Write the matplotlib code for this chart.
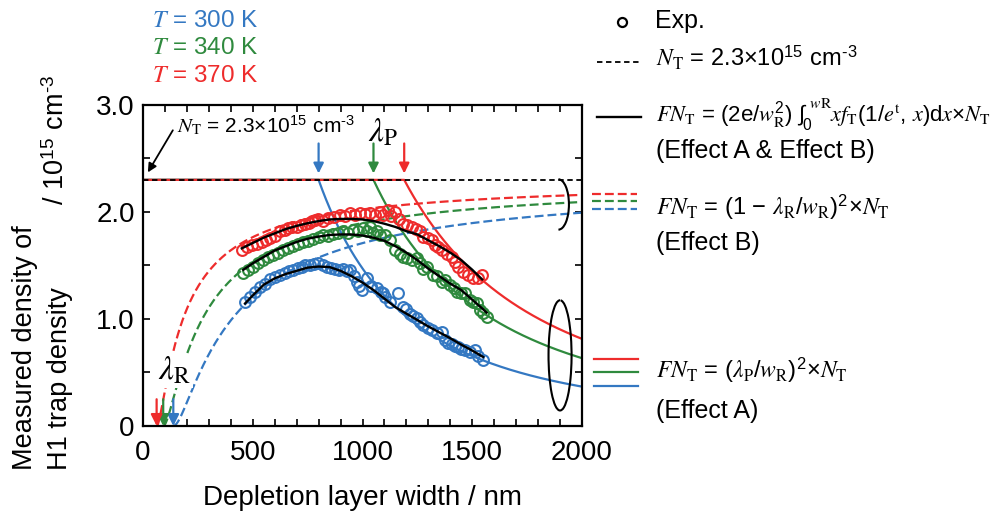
import numpy as np
import matplotlib
matplotlib.use('Agg')
import matplotlib.pyplot as plt
from matplotlib.ticker import MultipleLocator, FixedFormatter, FixedLocator
from matplotlib.patches import Arc

plt.rcParams['font.family'] = ['Liberation Sans', 'DejaVu Sans']
# italic variables in a Times-like face; \mathsf is used for the upright serif subscripts
plt.rcParams['mathtext.fontset'] = 'custom'
plt.rcParams['mathtext.rm'] = 'Liberation Sans'
plt.rcParams['mathtext.it'] = 'STIXGeneral:italic'
plt.rcParams['mathtext.sf'] = 'STIXGeneral'
plt.rcParams['mathtext.bf'] = 'Liberation Sans:bold'

# ---- data ----
temps = ['300', '340', '370']
colors = ['#3478c2', '#2f8a3e', '#ee2c2c']
NT = 2.3                      # x10^15 cm^-3
lam_P = [800, 1050, 1190]     # nm
lam_R = [138, 92, 62]         # nm

w_300 = [465, 488, 510, 535, 556, 580, 601, 625, 647, 665, 685, 705, 723, 740, 761, 780, 799, 818,
         837, 856, 875, 895, 913, 930, 943, 960, 974, 985, 996, 1019, 1040, 1065, 1085, 1095, 1103,
         1125, 1163, 1186, 1200, 1216, 1232, 1247, 1262, 1277, 1300, 1315, 1340, 1361, 1376, 1391,
         1406, 1420, 1436, 1450, 1467, 1490, 1513, 1528, 1550]
n_300 = [1.16, 1.21, 1.255, 1.30, 1.33, 1.37, 1.395, 1.41, 1.43, 1.45, 1.46, 1.48, 1.49, 1.50, 1.505,
         1.51, 1.52, 1.50, 1.49, 1.48, 1.47, 1.46, 1.47, 1.45, 1.46, 1.40, 1.35, 1.31, 1.27, 1.38, 1.31,
         1.29, 1.25, 1.24, 1.21, 1.16, 1.24, 1.115, 1.09, 1.05, 1.03, 1.005, 0.97, 0.94, 0.92, 0.90,
         0.87, 0.88, 0.80, 0.78, 0.77, 0.75, 0.74, 0.72, 0.71, 0.69, 0.71, 0.65, 0.62]

w_340 = [457, 480, 503, 525, 548, 570, 594, 615, 639, 660, 685, 705, 730, 750, 776, 800, 821, 845,
         867, 890, 913, 935, 958, 980, 1004, 1020, 1034, 1050, 1065, 1080, 1103, 1125, 1148, 1171,
         1186, 1205, 1224, 1247, 1262, 1277, 1292, 1323, 1340, 1361, 1376, 1399, 1415, 1429, 1450,
         1467, 1490, 1505, 1520, 1535, 1550, 1566]
n_340 = [1.43, 1.46, 1.49, 1.52, 1.55, 1.58, 1.60, 1.62, 1.645, 1.66, 1.68, 1.70, 1.72, 1.73, 1.75,
         1.77, 1.785, 1.78, 1.79, 1.80, 1.82, 1.80, 1.83, 1.82, 1.85, 1.82, 1.86, 1.80, 1.82, 1.785,
         1.785, 1.74, 1.645, 1.61, 1.58, 1.57, 1.55, 1.57, 1.52, 1.47, 1.49, 1.41, 1.40, 1.35, 1.36,
         1.32, 1.29, 1.255, 1.24, 1.24, 1.18, 1.16, 1.15, 1.08, 1.06, 1.02]

w_370 = [450, 475, 495, 520, 541, 560, 579, 600, 624, 645, 662, 680, 700, 720, 738, 755, 768, 785,
         799, 820, 845, 870, 897, 920, 943, 965, 989, 1010, 1034, 1055, 1080, 1095, 1118, 1130, 1148,
         1165, 1186, 1205, 1224, 1245, 1262, 1277, 1300, 1315, 1330, 1345, 1361, 1384, 1406, 1420,
         1436, 1459, 1482, 1505, 1528, 1543]
n_370 = [1.645, 1.67, 1.69, 1.70, 1.72, 1.74, 1.76, 1.78, 1.82, 1.83, 1.85, 1.855, 1.86, 1.88, 1.89,
         1.90, 1.92, 1.925, 1.93, 1.92, 1.94, 1.95, 1.97, 1.96, 1.99, 1.97, 1.99, 1.98, 1.99, 1.97,
         2.00, 1.97, 2.02, 1.96, 2.00, 1.93, 1.89, 1.88, 1.86, 1.84, 1.82, 1.77, 1.76, 1.74, 1.69,
         1.67, 1.64, 1.61, 1.58, 1.53, 1.49, 1.44, 1.41, 1.38, 1.38, 1.41]

# fitted FN_T (Effect A & Effect B)
fit_w_300 = [465, 500, 550, 600, 650, 700, 750, 800, 850, 900, 950, 1000, 1050, 1100, 1150, 1200,
             1250, 1300, 1350, 1400, 1450, 1500, 1550]
fit_n_300 = [1.145, 1.22, 1.32, 1.38, 1.42, 1.45, 1.48, 1.49, 1.485, 1.45, 1.40, 1.34, 1.27, 1.19,
             1.11, 1.05, 0.99, 0.93, 0.875, 0.82, 0.76, 0.705, 0.645]
fit_w_340 = [457, 500, 550, 600, 650, 700, 750, 800, 850, 900, 950, 1000, 1050, 1100, 1150, 1200,
             1250, 1300, 1350, 1400, 1450, 1500, 1550, 1565]
fit_n_340 = [1.46, 1.52, 1.58, 1.64, 1.68, 1.72, 1.75, 1.77, 1.785, 1.79, 1.79, 1.78, 1.76, 1.73,
             1.68, 1.62, 1.55, 1.47, 1.40, 1.33, 1.27, 1.18, 1.09, 1.06]
fit_w_370 = [450, 500, 550, 600, 650, 700, 750, 800, 850, 900, 950, 1000, 1050, 1100, 1150, 1200,
             1250, 1300, 1350, 1400, 1450, 1500, 1545]
fit_n_370 = [1.66, 1.71, 1.76, 1.80, 1.84, 1.87, 1.895, 1.915, 1.93, 1.935, 1.935, 1.93, 1.915,
             1.89, 1.86, 1.82, 1.79, 1.735, 1.68, 1.62, 1.55, 1.46, 1.37]

exp_w = [w_300, w_340, w_370]
exp_n = [n_300, n_340, n_370]
fit_w = [fit_w_300, fit_w_340, fit_w_370]
fit_n = [fit_n_300, fit_n_340, fit_n_370]

unit = r'10$^{15}$ cm$^{\text{-}3}$'

fig = plt.figure(figsize=(10.05, 5.17), dpi=100)
ax = fig.add_axes([0.1423, 0.176, 0.4368, 0.621])

w = np.linspace(1, 2000, 2000)

# Effect A: constant up to lambda_P, then (lambda_P / w)^2
for lp, c in zip(lam_P, colors):
    fa = np.where(w <= lp, NT, NT * (lp / w) ** 2)
    ax.plot(w, fa, color=c, lw=1.6, zorder=2)

# Effect B: (1 - lambda_R / w)^2
for lr, c in zip(lam_R, colors):
    ww = w[w >= lr]
    ax.plot(ww, NT * (1 - lr / ww) ** 2, color=c, lw=1.6, ls=(0, (4, 1.8)), zorder=2)

ax.axhline(NT, color='k', lw=1.3, ls=(0, (3, 2)), zorder=3)

for xs, ys, c in zip(exp_w, exp_n, colors):
    ax.plot(xs, ys, 'o', mfc='none', mec=c, ms=7.8, mew=1.5, zorder=4)
for xs, ys in zip(fit_w, fit_n):
    ax.plot(xs, ys, color='k', lw=1.7, zorder=5)

# lambda_P and lambda_R markers
for lp, c in zip(lam_P, colors):
    ax.annotate('', xy=(lp, 2.36), xytext=(lp, 2.64),
                arrowprops=dict(arrowstyle='-|>', color=c, lw=1.6, mutation_scale=15,
                                shrinkA=0, shrinkB=0), zorder=6)
for lr, c in zip(lam_R, colors):
    ax.annotate('', xy=(lr, 0.0), xytext=(lr, 0.25),
                arrowprops=dict(arrowstyle='-|>', color=c, lw=1.6, mutation_scale=17,
                                shrinkA=0, shrinkB=0), zorder=6)

ax.text(1025, 2.66, r'$\lambda_\mathsf{P}$', fontsize=24, va='baseline', zorder=7)
ax.text(70, 0.43, r'$\lambda_\mathsf{R}$', fontsize=24, va='baseline', zorder=7,
        bbox=dict(facecolor='white', edgecolor='none', pad=1.0))

ax.annotate(r'$N_\mathsf{T}$ = 2.3×' + unit, xy=(22, 2.37), xytext=(155, 2.74),
            fontsize=15, va='baseline',
            arrowprops=dict(arrowstyle='-|>', color='k', lw=1.3, mutation_scale=13,
                            shrinkA=2, shrinkB=0, relpos=(0, 0.6)))

# brackets grouping the curve ends
ax.add_patch(Arc((1893, 2.07), 95, 0.47, theta1=-145, theta2=145, color='k', lw=1.5,
                 clip_on=False, zorder=6))
ax.add_patch(Arc((1900, 0.66), 105, 1.03, theta1=-320, theta2=10, color='k', lw=1.5,
                 clip_on=False, zorder=6))

ax.set_xlim(0, 2000)
ax.set_ylim(0, 3.0)
ax.xaxis.set_major_locator(MultipleLocator(500))
ax.xaxis.set_minor_locator(MultipleLocator(100))
ax.yaxis.set_major_locator(FixedLocator([0, 1, 2, 3]))
ax.yaxis.set_major_formatter(FixedFormatter(['0', '1.0', '2.0', '3.0']))
ax.yaxis.set_minor_locator(MultipleLocator(0.5))
ax.tick_params(which='both', direction='in', top=True, right=True, length=5, width=1.2,
               labelsize=20)
ax.tick_params(axis='x', pad=10)
ax.tick_params(axis='y', pad=6)
for s in ax.spines.values():
    s.set_linewidth(1.6)
ax.set_xlabel('Depletion layer width / nm', fontsize=20, labelpad=14)

# overlay in pixel coordinates for the side legend and labels
ov = fig.add_axes([0, 0, 1, 1], facecolor='none')
ov.set_xlim(0, 1005)
ov.set_ylim(517, 0)
ov.axis('off')

ov.text(25, 470, 'Measured density of', rotation=90, ha='center', va='bottom', fontsize=19.5)
ov.text(60, 470, 'H1 trap density', rotation=90, ha='center', va='bottom', fontsize=19.5)
ov.text(57, 205, '/ ' + unit, rotation=90, ha='center', va='bottom', fontsize=19.5)

for i, (t, c) in enumerate(zip(temps, colors)):
    ov.text(152, 27 + 27.5 * i, rf'$T$ = {t} K', color=c, fontsize=17.5, va='baseline')

ov.plot([622], [22], 'o', mfc='none', mec='k', ms=6.5, mew=1.6)
ov.text(655, 28, 'Exp.', fontsize=18, va='baseline')

ov.plot([597, 641], [62, 62], color='k', lw=1.3, ls=(0, (3, 2)))
ov.text(656, 67, r'$N_\mathsf{T}$ = 2.3×' + unit, fontsize=17, va='baseline')

ov.plot([597, 641], [117, 117], color='k', lw=1.7)
ov.text(656, 122, r'$FN_\mathsf{T}$ = (2e/$w_\mathsf{R}^{2}$) $\int_0^{w\mathsf{R}}$$xf_\mathsf{T}$(1/$e^\mathsf{t}$, $x$)d$x$×$N_\mathsf{T}$',
        fontsize=16, va='baseline')
ov.text(656, 158, '(Effect A & Effect B)', fontsize=18, va='baseline')

for y0, c in zip([209, 201, 194], colors):
    ov.plot([592, 637], [y0, y0], color=c, lw=1.6, ls=(0, (4, 1.8)))
ov.text(656, 215, r'$FN_\mathsf{T}$ = (1 − $\lambda_\mathsf{R}$/$w_\mathsf{R}$)$^2$×$N_\mathsf{T}$',
        fontsize=17, va='baseline')
ov.text(656, 250, '(Effect B)', fontsize=18, va='baseline')

for y0, c in zip([386, 372, 359], colors):
    ov.plot([594, 638], [y0, y0], color=c, lw=1.6)
ov.text(656, 378, r'$FN_\mathsf{T}$ = ($\lambda_\mathsf{P}$/$w_\mathsf{R}$)$^2$×$N_\mathsf{T}$',
        fontsize=17, va='baseline')
ov.text(656, 418, '(Effect A)', fontsize=18, va='baseline')

fig.savefig('out.png', dpi=100, facecolor='white')
